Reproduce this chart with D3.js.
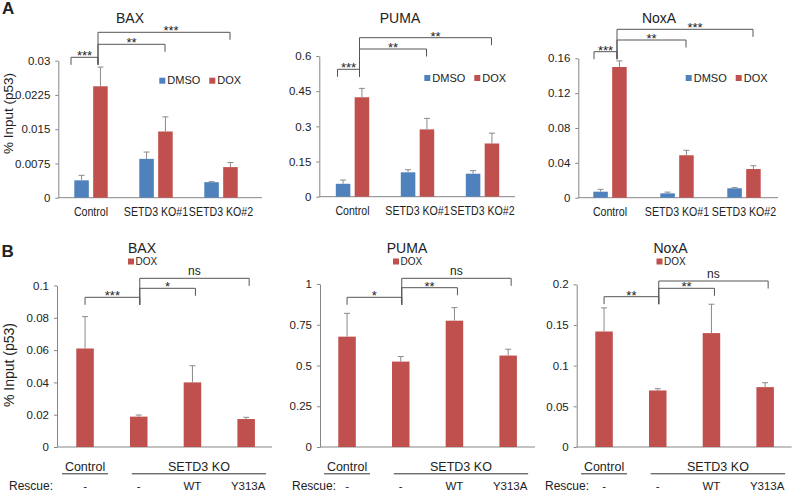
<!DOCTYPE html>
<html><head><meta charset="utf-8">
<script src="https://cdn.jsdelivr.net/npm/d3@7"></script>
<style>
body{margin:0;background:#fff}
svg{display:block}
text{font-family:"Liberation Sans",Arial,sans-serif;fill:#222}
</style>
</head><body>
<svg id="chart" width="792" height="491"></svg>
<script>
// ---------------- DATA ----------------
const topCategories = ["Control", "SETD3 KO#1", "SETD3 KO#2"];
const topSeries = ["DMSO", "DOX"];

const baxDMSO = [0.0038, 0.0085, 0.0034];
const baxDMSOErr = [0.0011, 0.0015, 0.0001];
const baxDOX = [0.0244, 0.0145, 0.0067];
const baxDOXErr = [0.0042, 0.0032, 0.0010];

const pumaDMSO = [0.055, 0.104, 0.098];
const pumaDMSOErr = [0.016, 0.011, 0.013];
const pumaDOX = [0.424, 0.287, 0.227];
const pumaDOXErr = [0.038, 0.047, 0.044];

const noxaDMSO = [0.0069, 0.0050, 0.0108];
const noxaDMSOErr = [0.0027, 0.0014, 0.0008];
const noxaDOX = [0.150, 0.0487, 0.0329];
const noxaDOXErr = [0.007, 0.0057, 0.0038];

const baxTicks = [0, 0.0075, 0.015, 0.0225, 0.03];
const baxTickLabels = ["0", "0.0075", "0.015", "0.0225", "0.03"];
const pumaTicks = [0, 0.15, 0.3, 0.45, 0.6];
const pumaTickLabels = ["0", "0.15", "0.3", "0.45", "0.6"];
const noxaTicks = [0, 0.04, 0.08, 0.12, 0.16];
const noxaTickLabels = ["0", "0.04", "0.08", "0.12", "0.16"];

const baxTopSig = ["***", "**", "***"];
const pumaTopSig = ["***", "**", "**"];
const noxaTopSig = ["***", "**", "***"];

const rescueGroups = ["Control", "KO -", "KO WT", "KO Y313A"];
const rescueLabels = ["-", "-", "WT", "Y313A"];

const baxRescue = [0.061, 0.0188, 0.040, 0.0173];
const baxRescueErr = [0.0197, 0.0010, 0.0103, 0.0011];
const pumaRescue = [0.677, 0.524, 0.775, 0.561];
const pumaRescueErr = [0.143, 0.031, 0.080, 0.039];
const noxaRescue = [0.142, 0.0695, 0.140, 0.0736];
const noxaRescueErr = [0.029, 0.0021, 0.0355, 0.0054];

const baxBTicks = [0, 0.02, 0.04, 0.06, 0.08, 0.1];
const baxBTickLabels = ["0", "0.02", "0.04", "0.06", "0.08", "0.1"];
const pumaBTicks = [0, 0.25, 0.5, 0.75, 1];
const pumaBTickLabels = ["0", "0.25", "0.5", "0.75", "1"];
const noxaBTicks = [0, 0.05, 0.1, 0.15, 0.2];
const noxaBTickLabels = ["0", "0.05", "0.1", "0.15", "0.2"];

const baxBSig = ["***", "*", "ns"];
const pumaBSig = ["*", "**", "ns"];
const noxaBSig = ["**", "**", "ns"];

// ---------------- STYLE / LAYOUT ----------------
const COLORS = {DMSO: "#4f81bd", DOX: "#c0504d"};
const AXIS = "#868686", ERR = "#8a8a8a", BRK = "#555";

const svg = d3.select("#chart");

function yAxis(g, y, ticks, labels) {
  g.call(d3.axisLeft(y).tickValues(ticks).tickFormat((d, i) => labels[i])
        .tickSize(3).tickSizeOuter(0).tickPadding(5));
  g.selectAll("path,line").attr("stroke", AXIS);
  g.selectAll("text").style("font-size", "11.5px").attr("fill", "#222");
}

function bracketLabel(g, x, level, label) {
  const isNs = label === "ns";
  g.append("text").attr("x", x).attr("y", isNs ? level - 3.5 : level + 3)
    .attr("text-anchor", "middle")
    .style("font-size", isNs ? "12px" : "13px").text(label);
}

function bracket(g, x1, x2, y, leg1b, leg2b) {
  g.append("path")
    .attr("d", `M${x1},${leg1b}V${y}H${x2}V${leg2b}`)
    .attr("fill", "none").attr("stroke", BRK).attr("stroke-width", 1);
}

// narrow (Calibri-like) label: compressed horizontally
function narrowText(g, x, y, txt, size, sx) {
  g.append("text").attr("transform", `translate(${x},${y}) scale(${sx},1)`)
    .attr("text-anchor", "middle").style("font-size", size + "px").text(txt);
}

// ---------- Panel A ----------
const topPanels = [
  {title: "BAX", dmso: baxDMSO, dmsoErr: baxDMSOErr, dox: baxDOX, doxErr: baxDOXErr,
   ticks: baxTicks, labels: baxTickLabels, sig: baxTopSig,
   L: {axisX: 58.3, y0: 197.7, yTop: 60.7, band0: 58.5, step: 65, axisEnd: 262,
       titleX: 130, legX: 159.3, legY: 77.7, levels: [57.3, 44.3, 32.3], leftDx: -20, dxs: [0, 0, 7]}},
  {title: "PUMA", dmso: pumaDMSO, dmsoErr: pumaDMSOErr, dox: pumaDOX, doxErr: pumaDOXErr,
   ticks: pumaTicks, labels: pumaTickLabels, sig: pumaTopSig,
   L: {axisX: 319.3, y0: 196.7, yTop: 56, band0: 320, step: 65, axisEnd: 515,
       titleX: 400, legX: 424.3, legY: 75, levels: [69.3, 49, 37.7], leftDx: -15, dxs: [0, 0, 10]}},
  {title: "NoxA", dmso: noxaDMSO, dmsoErr: noxaDMSOErr, dox: noxaDOX, doxErr: noxaDOXErr,
   ticks: noxaTicks, labels: noxaTickLabels, sig: noxaTopSig,
   L: {axisX: 578.3, y0: 197.7, yTop: 58.3, band0: 576.5, step: 67, axisEnd: 778,
       titleX: 659, legX: 685.7, legY: 75, levels: [51.7, 40, 29.3], leftDx: -16, dxs: [0, 0, 10]}}
];

topPanels.forEach(p => {
  const L = p.L;
  const g = svg.append("g");
  const x = d3.scaleBand().domain(topCategories)
    .range([L.band0, L.band0 + L.step * topCategories.length]);
  const xi = d3.scaleBand().domain(topSeries).range([-16.7, 16.7]).paddingInner(0.23);
  const y = d3.scaleLinear().domain([0, p.ticks[p.ticks.length - 1]]).range([L.y0, L.yTop]);

  g.append("line").attr("x1", L.axisX).attr("x2", L.axisEnd)
    .attr("y1", L.y0).attr("y2", L.y0).attr("stroke", AXIS);
  yAxis(g.append("g").attr("transform", `translate(${L.axisX},0)`), y, p.ticks, p.labels);

  const rows = [];
  topCategories.forEach((c, i) => {
    rows.push({c, s: "DMSO", v: p.dmso[i], e: p.dmsoErr[i]});
    rows.push({c, s: "DOX", v: p.dox[i], e: p.doxErr[i]});
  });
  const cx = c => x(c) + x.bandwidth() / 2;
  g.selectAll(".bar").data(rows).join("rect")
    .attr("x", d => cx(d.c) + xi(d.s)).attr("width", xi.bandwidth())
    .attr("y", d => y(d.v)).attr("height", d => y(0) - y(d.v))
    .attr("fill", d => COLORS[d.s]);
  rows.forEach(d => {
    const ex = cx(d.c) + xi(d.s) + xi.bandwidth() / 2;
    g.append("line").attr("x1", ex).attr("x2", ex).attr("y1", y(d.v)).attr("y2", y(d.v + d.e))
      .attr("stroke", ERR);
    g.append("line").attr("x1", ex - 3).attr("x2", ex + 3)
      .attr("y1", y(d.v + d.e)).attr("y2", y(d.v + d.e)).attr("stroke", ERR);
  });

  topCategories.forEach(c => narrowText(g, cx(c), L.y0 + 18.5, c, 12.5, 0.85));

  g.append("text").attr("x", L.titleX).attr("y", 22.5).attr("text-anchor", "middle")
    .style("font-size", "14px").text(p.title);

  topSeries.forEach((s, i) => {
    const lx = L.legX + i * 50;
    g.append("rect").attr("x", lx).attr("y", L.legY).attr("width", 6).attr("height", 6)
      .attr("fill", COLORS[s]);
    g.append("text").attr("x", lx + 8).attr("y", L.legY + 6.5)
      .style("font-size", "11px").text(s);
  });

  const pivot = cx(topCategories[0]) + 7;
  const anchor = L.levels[0] + 7.5;
  p.sig.forEach((lab, k) => {
    const lev = L.levels[k];
    let x1, x2, b1, b2;
    if (k === 0) { x1 = cx(topCategories[0]) + L.leftDx; x2 = pivot; b1 = anchor; b2 = anchor; }
    else { x1 = pivot; x2 = cx(topCategories[k]) + 9; b1 = anchor; b2 = lev + 7.5; }
    bracket(g, x1, x2, lev, b1, b2);
    bracketLabel(g, (x1 + x2) / 2 + L.dxs[k], lev, lab);
  });
});

svg.append("text").attr("transform", "translate(12.5,113.5) rotate(-90)")
  .attr("text-anchor", "middle").style("font-size", "13.5px").text("% Input (p53)");
svg.append("text").attr("x", 2).attr("y", 13.5).style("font-size", "17px")
  .style("font-weight", "bold").text("A");

// ---------- Panel B ----------
const botPanels = [
  {title: "BAX", vals: baxRescue, errs: baxRescueErr, ticks: baxBTicks, labels: baxBTickLabels, sig: baxBSig,
   L: {axisX: 57, y0: 447, yTop: 285.5, band0: 58.2, titleX: 142, levels: [297.3, 288.3, 278.3], rescueEnd: 53}},
  {title: "PUMA", vals: pumaRescue, errs: pumaRescueErr, ticks: pumaBTicks, labels: pumaBTickLabels, sig: pumaBSig,
   L: {axisX: 320, y0: 447, yTop: 284, band0: 320.2, titleX: 407, levels: [297.3, 287.7, 278.3], rescueEnd: 336}},
  {title: "NoxA", vals: noxaRescue, errs: noxaRescueErr, ticks: noxaBTicks, labels: noxaBTickLabels, sig: noxaBSig,
   L: {axisX: 576.7, y0: 447, yTop: 284.3, band0: 577.2, titleX: 670.5, levels: [296.7, 288.3, 281], rescueEnd: 589}}
];
const STEP_B = 53.7;

botPanels.forEach(p => {
  const L = p.L;
  const g = svg.append("g");
  const x = d3.scaleBand().domain(rescueGroups)
    .range([L.band0, L.band0 + STEP_B * rescueGroups.length])
    .paddingInner(0.674).paddingOuter(0.337);
  const cx = c => x(c) + x.bandwidth() / 2;
  const y = d3.scaleLinear().domain([0, p.ticks[p.ticks.length - 1]]).range([L.y0, L.yTop]);

  g.append("line").attr("x1", L.axisX).attr("x2", L.axisX + 215)
    .attr("y1", L.y0).attr("y2", L.y0).attr("stroke", AXIS);
  yAxis(g.append("g").attr("transform", `translate(${L.axisX},0)`), y, p.ticks, p.labels);

  const rows = rescueGroups.map((c, i) => ({c, v: p.vals[i], e: p.errs[i]}));
  g.selectAll(".bar").data(rows).join("rect")
    .attr("x", d => x(d.c)).attr("width", x.bandwidth())
    .attr("y", d => y(d.v)).attr("height", d => y(0) - y(d.v))
    .attr("fill", COLORS.DOX);
  rows.forEach(d => {
    const ex = cx(d.c);
    g.append("line").attr("x1", ex).attr("x2", ex).attr("y1", y(d.v)).attr("y2", y(d.v + d.e))
      .attr("stroke", ERR);
    g.append("line").attr("x1", ex - 3).attr("x2", ex + 3)
      .attr("y1", y(d.v + d.e)).attr("y2", y(d.v + d.e)).attr("stroke", ERR);
  });

  g.append("text").attr("x", L.titleX).attr("y", 253).attr("text-anchor", "middle")
    .style("font-size", "14px").text(p.title);
  g.append("rect").attr("x", L.titleX - 14).attr("y", 258.5).attr("width", 6).attr("height", 6)
    .attr("fill", COLORS.DOX);
  g.append("text").attr("x", L.titleX - 6.5).attr("y", 265)
    .style("font-size", "10px").text("DOX");

  const pivot = cx(rescueGroups[1]) + 1;
  const anchor = L.levels[0] + 7.5;
  p.sig.forEach((lab, k) => {
    const lev = L.levels[k];
    let x1, x2, b1, b2;
    if (k === 0) { x1 = cx(rescueGroups[0]); x2 = pivot; b1 = anchor; b2 = anchor; }
    else { x1 = pivot; x2 = cx(rescueGroups[k + 1]) + 3; b1 = anchor; b2 = lev + 7.5; }
    bracket(g, x1, x2, lev, b1, b2);
    bracketLabel(g, (x1 + x2) / 2, lev, lab);
  });

  const c0 = cx(rescueGroups[0]);
  g.append("text").attr("x", c0).attr("y", 470.5).attr("text-anchor", "middle")
    .style("font-size", "12.5px").text("Control");
  g.append("line").attr("x1", c0 - 23).attr("x2", c0 + 23).attr("y1", 473.8).attr("y2", 473.8)
    .attr("stroke", "#333");
  const k1 = cx(rescueGroups[1]) - 7, k2 = cx(rescueGroups[3]) + 20;
  g.append("text").attr("x", (k1 + k2) / 2).attr("y", 470.5).attr("text-anchor", "middle")
    .style("font-size", "12.5px").text("SETD3 KO");
  g.append("line").attr("x1", k1).attr("x2", k2).attr("y1", 473.8).attr("y2", 473.8)
    .attr("stroke", "#333");
  g.append("text").attr("x", L.rescueEnd).attr("y", 489.5).attr("text-anchor", "end")
    .style("font-size", "12px").text("Rescue:");
  rescueGroups.forEach((c, i) => {
    g.append("text").attr("x", cx(c) + (i === 3 ? 2 : 0)).attr("y", 489.5).attr("text-anchor", "middle")
      .style("font-size", "11.5px").text(rescueLabels[i]);
  });
});

svg.append("text").attr("transform", "translate(14,365) rotate(-90)")
  .attr("text-anchor", "middle").style("font-size", "14px").text("% Input (p53)");
svg.append("text").attr("x", 1.5).attr("y", 256.5).style("font-size", "17px")
  .style("font-weight", "bold").text("B");
</script>
</body></html>
